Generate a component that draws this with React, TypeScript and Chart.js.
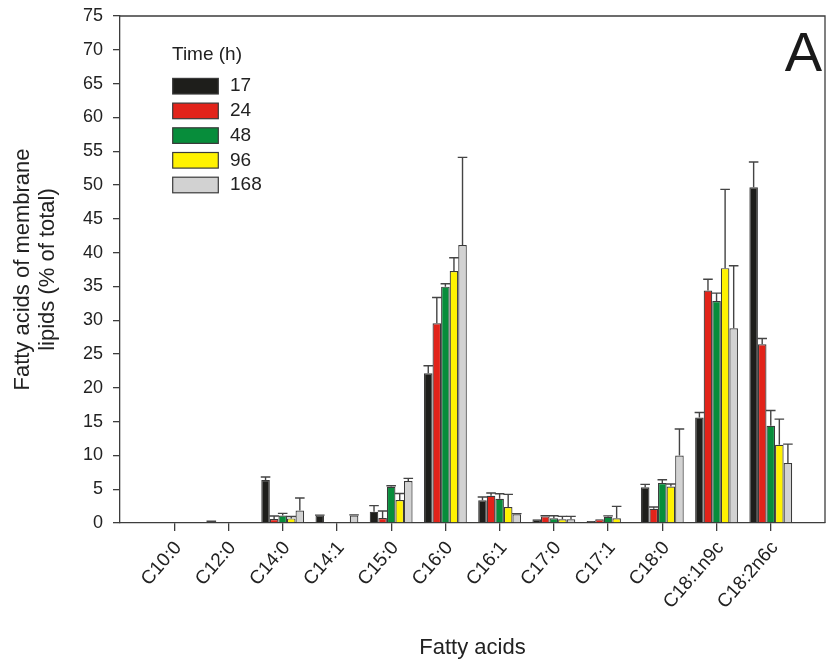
import React, { useEffect, useRef } from 'react';
import { Chart, registerables } from 'chart.js';
Chart.register(...registerables);

const categories = ['C10:0', 'C12:0', 'C14:0', 'C14:1', 'C15:0', 'C16:0', 'C16:1', 'C17:0', 'C17:1', 'C18:0', 'C18:1n9c', 'C18:2n6c'];
const seriesNames = ['17', '24', '48', '96', '168'];
const seriesColors = ['#1e1e1b', '#e2231a', '#078d3b', '#fff200', '#d2d2d2'];

const h17 = [null, 0.15, 6.35, 1.12, 1.67, 22.16, 3.35, 0.54, 0.3, 5.27, 15.6, 49.65];
const h17err = [null, 0.1, 0.45, 0.05, 0.9, 1.1, 0.5, 0, 0, 0.45, 0.75, 3.75];
const h24 = [null, null, 0.59, null, 0.74, 29.55, 4.03, 0.98, 0.54, 2.1, 34.4, 26.45];
const h24err = [null, null, 0.45, null, 1.03, 3.8, 0.4, 0.1, 0, 0.26, 1.65, 0.85];
const h48 = [null, null, 1.12, null, 5.36, 34.96, 3.59, 0.69, 0.93, 5.9, 32.85, 14.38];
const h48err = [null, null, 0.3, null, 0.14, 0.44, 0.74, 0.39, 0.12, 0.5, 1.15, 2.26];
const h96 = [null, null, 0.68, null, 3.4, 37.28, 2.36, 0.54, 0.69, 5.4, 37.7, 11.57];
const h96err = [null, null, 0.29, null, 0.97, 1.96, 1.87, 0.44, 1.77, 0.36, 11.65, 3.8];
const h168 = [null, null, 1.86, 1.12, 6.2, 41.12, 1.28, 0.54, null, 9.99, 28.8, 8.87];
const h168err = [null, null, 1.83, 0.08, 0.4, 12.96, 0.1, 0.44, null, 3.91, 9.26, 2.8];

const seriesValues = [h17, h24, h48, h96, h168];
const seriesErrors = [h17err, h24err, h48err, h96err, h168err];

const FONT = "'Liberation Sans', Arial, sans-serif";
const AXIS_COLOR = '#3d3d3d';
const TEXT_COLOR = '#222222';

const errorBarPlugin = {
  id: 'errorBars',
  afterDatasetsDraw(chart: any) {
    const ctx = chart.ctx;
    const yScale = chart.scales.y;
    ctx.save();
    ctx.strokeStyle = '#444444';
    ctx.lineWidth = 1.4;
    chart.data.datasets.forEach((ds: any, di: number) => {
      const meta = chart.getDatasetMeta(di);
      meta.data.forEach((el: any, i: number) => {
        const v = seriesValues[di][i];
        const e = seriesErrors[di][i];
        if (v == null || !e) return;
        const top = yScale.getPixelForValue(v + e);
        const half = el.width / 2 + 0.5;
        ctx.beginPath();
        ctx.moveTo(el.x, el.y);
        ctx.lineTo(el.x, top);
        ctx.moveTo(el.x - half, top);
        ctx.lineTo(el.x + half, top);
        ctx.stroke();
      });
    });
    ctx.restore();
  },
};

const framePlugin = {
  id: 'frameAndLegend',
  afterDraw(chart: any) {
    const ctx = chart.ctx;
    const a = chart.chartArea;
    ctx.save();
    ctx.strokeStyle = AXIS_COLOR;
    ctx.lineWidth = 1.3;
    ctx.beginPath();
    ctx.moveTo(a.left, a.top);
    ctx.lineTo(a.right, a.top);
    ctx.lineTo(a.right, a.bottom);
    ctx.stroke();

    // panel letter
    ctx.fillStyle = '#1a1a1a';
    ctx.font = `56px ${FONT}`;
    ctx.textAlign = 'right';
    ctx.textBaseline = 'alphabetic';
    ctx.fillText('A', 822, 71);

    // legend
    ctx.fillStyle = TEXT_COLOR;
    ctx.font = `19px ${FONT}`;
    ctx.textAlign = 'left';
    ctx.textBaseline = 'middle';
    ctx.fillText('Time (h)', 172, 55);
    seriesNames.forEach((name, i) => {
      const cy = 86.2 + 24.7 * i;
      ctx.fillStyle = seriesColors[i];
      ctx.fillRect(172.7, cy - 7.8, 45.6, 15.6);
      ctx.strokeStyle = '#3a3a3a';
      ctx.lineWidth = 1.2;
      ctx.strokeRect(172.7, cy - 7.8, 45.6, 15.6);
      ctx.fillStyle = TEXT_COLOR;
      ctx.fillText(name, 230, cy);
    });
    ctx.restore();
  },
};

export default function App() {
  const canvasRef = useRef<HTMLCanvasElement | null>(null);

  useEffect(() => {
    const canvas = canvasRef.current;
    if (!canvas) return;
    Chart.defaults.font.family = FONT;
    const datasets = seriesNames.map((name, di) => ({
      label: name,
      data: categories.map((_, i) => ({ x: i, y: seriesValues[di][i] })),
      backgroundColor: seriesColors[di],
      borderColor: '#3a3a3a',
      borderWidth: 1.2,
      categoryPercentage: 0.79,
      barPercentage: 1.0,
    }));
    const chart = new Chart(canvas, {
      type: 'bar',
      data: { datasets } as any,
      options: {
        animation: false,
        responsive: false,
        devicePixelRatio: 1,
        layout: { padding: { left: 0, top: 16, right: 9, bottom: 0 } },
        plugins: { legend: { display: false }, tooltip: { enabled: false } },
        scales: {
          x: {
            type: 'linear',
            min: -1,
            max: 12,
            offset: false,
            afterBuildTicks: (s: any) => {
              s.ticks = categories.map((_, i) => ({ value: i }));
            },
            afterFit: (s: any) => {
              s.height = 142;
              s.paddingLeft = 0;
              s.paddingRight = 0;
            },
            ticks: {
              autoSkip: false,
              maxRotation: 49,
              minRotation: 49,
              padding: 6,
              labelOffset: 4,
              color: TEXT_COLOR,
              font: { size: 19 },
              callback: (v: any) => categories[v] ?? '',
            },
            grid: { offset: false, drawOnChartArea: false, drawTicks: true, tickLength: 8, color: AXIS_COLOR, lineWidth: 1.3 },
            border: { display: true, color: AXIS_COLOR, width: 1.3 },
            title: {
              display: true,
              text: 'Fatty acids',
              color: TEXT_COLOR,
              font: { size: 22, lineHeight: 1.15 },
              padding: { top: 0, bottom: 4 },
            },
          },
          y: {
            min: 0,
            max: 75,
            afterFit: (s: any) => {
              s.width = 120;
              s.paddingTop = 0;
              s.paddingBottom = 0;
            },
            ticks: { stepSize: 5, padding: 10, color: TEXT_COLOR, font: { size: 18 } },
            grid: { drawOnChartArea: false, drawTicks: true, tickLength: 7, color: AXIS_COLOR, lineWidth: 1.3 },
            border: { display: true, color: AXIS_COLOR, width: 1.3 },
            title: {
              display: true,
              text: ['Fatty acids of membrane', 'lipids (% of total)'],
              color: TEXT_COLOR,
              font: { size: 22, lineHeight: 1.15 },
              padding: { top: 10, bottom: 0 },
            },
          },
        },
      } as any,
      plugins: [errorBarPlugin, framePlugin],
    });
    return () => chart.destroy();
  }, []);

  return (
    <div style={{ position: 'fixed', left: 0, top: 0, width: 834, height: 665, background: '#ffffff' }}>
      <canvas ref={canvasRef} width={834} height={665} style={{ display: 'block' }} />
    </div>
  );
}
